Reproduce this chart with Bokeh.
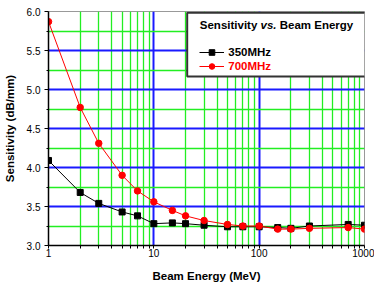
from bokeh.plotting import figure
from bokeh.models import (Range1d, FixedTicker, Label, BoxAnnotation,
                          Legend, LegendItem, PrintfTickFormatter, ColumnDataSource)
from bokeh.embed import file_html
from bokeh.resources import INLINE

# ---- data ----
energy = [1, 2, 3, 5, 7, 10, 15, 20, 30, 50, 70, 100, 150, 200, 300, 700, 1000]
sens_350 = [4.09, 3.68, 3.54, 3.43, 3.38, 3.28, 3.29, 3.28, 3.26, 3.24, 3.24, 3.24,
            3.23, 3.22, 3.25, 3.27, 3.26]
sens_700 = [5.87, 4.77, 4.31, 3.90, 3.70, 3.56, 3.45, 3.38, 3.32, 3.27, 3.25, 3.25,
            3.21, 3.21, 3.22, 3.23, 3.21]
x_ticks = [1, 10, 100, 1000]
y_ticks = [3.0, 3.5, 4.0, 4.5, 5.0, 5.5, 6.0]
series_names = ["350MHz", "700MHz"]
title_text = ["Sensitivity", "vs.", "Beam Energy"]

FONT = "Liberation Sans"
BLUE = "#1a1aff"
GREEN = "#22ee22"

src = ColumnDataSource(dict(x=energy, a=sens_350, b=sens_700))

p = figure(width=374, height=284, x_axis_type="log",
           x_range=Range1d(1, 1000), y_range=Range1d(3.0, 6.0),
           output_backend="svg", toolbar_location=None,
           min_border_left=47, min_border_right=10, min_border_top=11,
           min_border_bottom=39)
p.background_fill_color = "white"
p.border_fill_color = "white"
p.outline_line_color = "#999999"
p.outline_line_width = 1

minor_x = [m * d for d in (1, 10, 100) for m in range(2, 10)]
minor_y = [t + 0.25 for t in y_ticks[:-1]]

# axes
p.xaxis.ticker = FixedTicker(ticks=x_ticks, minor_ticks=minor_x)
p.yaxis.ticker = FixedTicker(ticks=y_ticks, minor_ticks=minor_y)
p.yaxis.formatter = PrintfTickFormatter(format="%.1f")
p.xaxis.formatter = PrintfTickFormatter(format="%d")
for ax in (p.xaxis, p.yaxis):
    ax.axis_line_color = "black"
    ax.axis_line_width = 1.5
    ax.major_tick_line_color = "black"
    ax.minor_tick_line_color = "black"
    ax.major_tick_in = 0
    ax.minor_tick_in = 0
    ax.major_tick_out = 4
    ax.minor_tick_out = 2
    ax.major_label_text_font = FONT
    ax.major_label_text_font_size = "10px"
    ax.major_label_text_color = "black"
    ax.axis_label_text_font = FONT
    ax.axis_label_text_font_size = "11.5px"
    ax.axis_label_text_font_style = "bold"
    ax.axis_label_text_color = "black"
p.xaxis.major_tick_out = 3
p.xaxis.minor_tick_out = 3
p.xaxis.major_label_standoff = 0
p.xaxis.axis_label_standoff = 10
p.yaxis.major_label_standoff = 4
p.yaxis.axis_label_standoff = 8
p.xaxis.axis_label = "Beam Energy (MeV)"
p.yaxis.axis_label = "Sensitivity (dB/mm)"

# grids
p.xgrid.ticker = FixedTicker(ticks=x_ticks[1:-1], minor_ticks=minor_x)
p.ygrid.ticker = FixedTicker(ticks=y_ticks[1:-1], minor_ticks=minor_y)
for g in (p.xgrid, p.ygrid):
    g.grid_line_color = BLUE
    g.grid_line_width = 2
    g.minor_grid_line_color = GREEN
    g.minor_grid_line_width = 1.3

# series
l1 = p.line("x", "a", source=src, line_color="black", line_width=1)
m1 = p.scatter("x", "a", source=src, marker="square", size=6,
               fill_color="black", line_color="black")
l2 = p.line("x", "b", source=src, line_color="red", line_width=1)
m2 = p.scatter("x", "b", source=src, marker="circle", size=6.5,
               fill_color="red", line_color="red")

# legend box (screen units, measured from the frame's bottom-left)
box = BoxAnnotation(left=138.7, right=317, top=232.7, bottom=169,
                    left_units="screen", right_units="screen",
                    top_units="screen", bottom_units="screen",
                    fill_color="white", fill_alpha=1, line_color="#333333",
                    line_alpha=1, line_width=2, level="overlay")
p.add_layout(box)

t_y = 221
x0 = 151.3
w1 = 60.7
w2 = 16.0
for txt, xx, style in ((title_text[0], x0, "bold"),
                       (title_text[1], x0 + w1, "bold italic"),
                       (title_text[2], x0 + w1 + w2 + 3.2, "bold")):
    p.add_layout(Label(x=xx, y=t_y, x_units="screen", y_units="screen", text=txt,
                       text_font=FONT, text_font_size="11.5px", text_font_style=style,
                       text_color="black", text_baseline="middle", text_align="left",
                       level="overlay"))

for name, rends, color, ybot in ((series_names[0], [l1, m1], "black", 186.3),
                                 (series_names[1], [l2, m2], "red", 172.0)):
    lg = Legend(items=[LegendItem(label=name, renderers=rends)],
                location=(151.3, ybot), padding=0, margin=0, spacing=0,
                glyph_width=25, glyph_height=14, label_height=14,
                label_standoff=4, border_line_color=None,
                background_fill_alpha=0, label_text_font=FONT,
                label_text_font_size="11.5px", label_text_font_style="bold",
                label_text_color=color, label_text_baseline="middle")
    p.add_layout(lg, "center")

open("out.html", "w").write(file_html(p, INLINE))
